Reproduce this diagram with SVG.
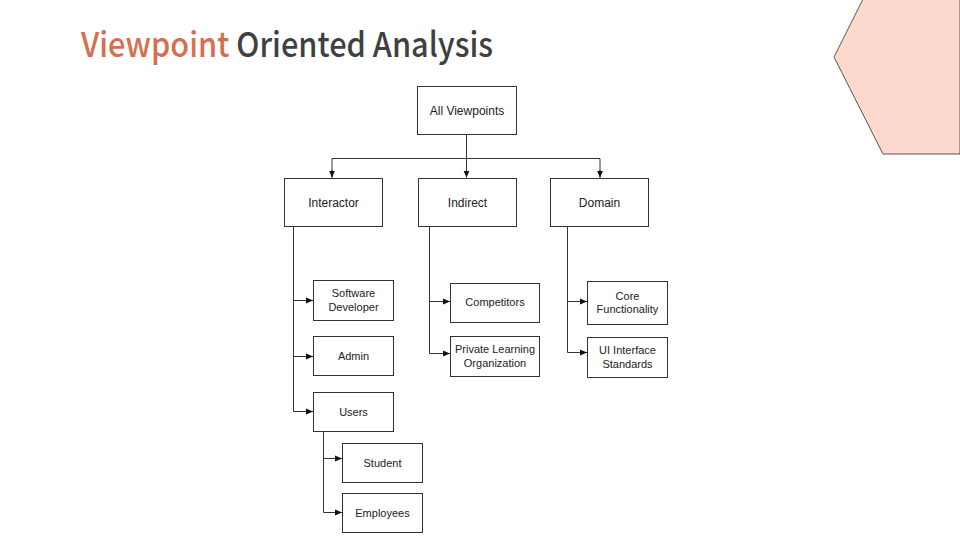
<svg xmlns="http://www.w3.org/2000/svg" width="960" height="540" viewBox="0 0 960 540">
<defs>
<style>
.box{fill:#fff;stroke:#333;stroke-width:1}
.lbl{font-family:"Liberation Sans",Arial,sans-serif;font-size:12px;fill:#222;text-anchor:middle}
.sm{font-size:11px}
.ln{fill:none;stroke:#333;stroke-width:1}
</style>
<marker id="ah" viewBox="0 0 8 8" refX="8" refY="4" markerWidth="7" markerHeight="7" markerUnits="userSpaceOnUse" orient="auto">
<path d="M0,0.5 L8,4 L0,7.5 Z" fill="#111"/>
</marker>
</defs>
<rect width="960" height="540" fill="#fff"/>
<polygon points="863,-1 960,-1 960,154 883,154 834,57" fill="#FDD8CC" stroke="#555" stroke-width="1"/>
<text x="81" y="57" font-family="'Noto Sans CJK KR','Noto Sans',sans-serif" font-size="34" font-weight="500" textLength="412" lengthAdjust="spacingAndGlyphs"><tspan fill="#D4704F">Viewpoint</tspan><tspan fill="#404040"> Oriented Analysis</tspan></text>

<g id="connectors">
<path class="ln" d="M466.5,134 V177.5" marker-end="url(#ah)"/>
<path class="ln" d="M332,158.5 H600 M332,158.5 V177.5 M600,158.5 V177.5"/>
<path class="ln" d="M332,170 V177.5" marker-end="url(#ah)"/>
<path class="ln" d="M600,170 V177.5" marker-end="url(#ah)"/>
<path class="ln" d="M293.5,226 V411.5"/>
<path class="ln" d="M293.5,300.5 H313" marker-end="url(#ah)"/>
<path class="ln" d="M293.5,356.5 H313" marker-end="url(#ah)"/>
<path class="ln" d="M293.5,411.5 H313" marker-end="url(#ah)"/>
<path class="ln" d="M323.5,432 V512.5"/>
<path class="ln" d="M323.5,458.5 H342" marker-end="url(#ah)"/>
<path class="ln" d="M323.5,512.5 H342" marker-end="url(#ah)"/>
<path class="ln" d="M429.5,226 V353.5"/>
<path class="ln" d="M429.5,301.5 H450" marker-end="url(#ah)"/>
<path class="ln" d="M429.5,353.5 H450" marker-end="url(#ah)"/>
<path class="ln" d="M567.5,226 V352.5"/>
<path class="ln" d="M567.5,301.5 H587" marker-end="url(#ah)"/>
<path class="ln" d="M567.5,352.5 H587" marker-end="url(#ah)"/>
</g>

<g id="all-viewpoints"><rect class="box" x="417.5" y="86.5" width="99" height="48"/><text class="lbl" x="467" y="114.5">All Viewpoints</text></g>
<g id="interactor"><rect class="box" x="284.5" y="178.5" width="98" height="48"/><text class="lbl" x="333.5" y="206.5">Interactor</text></g>
<g id="indirect"><rect class="box" x="418.5" y="178.5" width="98" height="48"/><text class="lbl" x="467.5" y="206.5">Indirect</text></g>
<g id="domain"><rect class="box" x="550.5" y="178.5" width="98" height="48"/><text class="lbl" x="599.5" y="206.5">Domain</text></g>

<g id="software-developer"><rect class="box" x="313.5" y="280.5" width="80" height="40"/><text class="lbl sm" x="353.5" y="297">Software</text><text class="lbl sm" x="353.5" y="311">Developer</text></g>
<g id="admin"><rect class="box" x="313.5" y="336.5" width="80" height="39"/><text class="lbl sm" x="353.5" y="360">Admin</text></g>
<g id="users"><rect class="box" x="313.5" y="392.5" width="80" height="39"/><text class="lbl sm" x="353.5" y="416">Users</text></g>
<g id="student"><rect class="box" x="342.5" y="443.5" width="80" height="39"/><text class="lbl sm" x="382.5" y="467">Student</text></g>
<g id="employees"><rect class="box" x="342.5" y="493.5" width="80" height="39"/><text class="lbl sm" x="382.5" y="517">Employees</text></g>

<g id="competitors"><rect class="box" x="450.5" y="283.5" width="89" height="39"/><text class="lbl sm" x="495" y="306">Competitors</text></g>
<g id="private-learning"><rect class="box" x="450.5" y="336.5" width="89" height="40"/><text class="lbl sm" x="495" y="353">Private Learning</text><text class="lbl sm" x="495" y="367">Organization</text></g>

<g id="core-functionality"><rect class="box" x="587.5" y="281.5" width="80" height="43"/><text class="lbl sm" x="627.5" y="300">Core</text><text class="lbl sm" x="627.5" y="313">Functionality</text></g>
<g id="ui-interface"><rect class="box" x="587.5" y="337.5" width="80" height="40"/><text class="lbl sm" x="627.5" y="354">UI Interface</text><text class="lbl sm" x="627.5" y="368">Standards</text></g>
</svg>
